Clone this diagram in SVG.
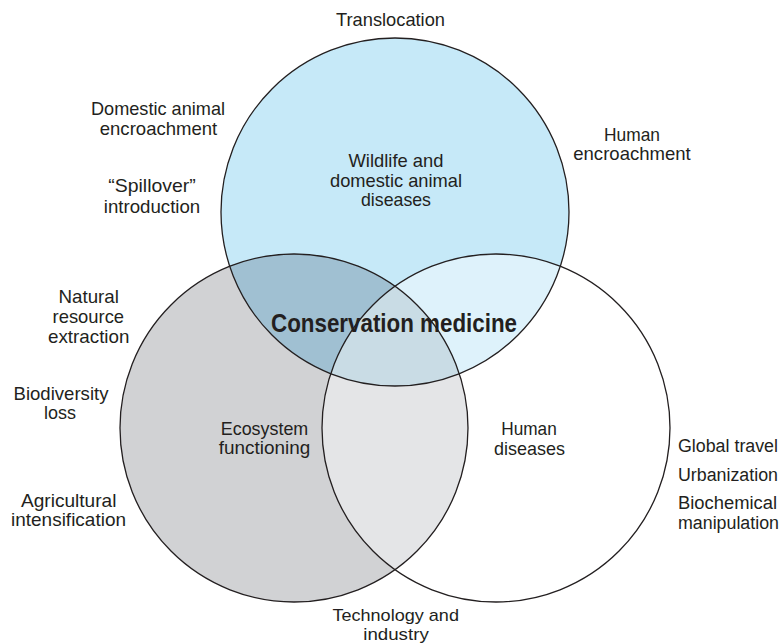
<svg xmlns="http://www.w3.org/2000/svg" width="782" height="644" viewBox="0 0 782 644">
<style>
  text { font-family: "Liberation Sans", Arial, sans-serif; font-size: 19px; fill: #231F20; }
  .c { text-anchor: middle; }
  .sm { font-size: 18px; }
  .xs { font-size: 17px; }
  .title { font-weight: bold; font-size: 25px; }
  .ring { fill: none; stroke: #231F20; stroke-width: 1.3; }
</style>
<defs>
  <circle id="cTop" cx="395" cy="212" r="174"/>
  <circle id="cLeft" cx="294" cy="428" r="174"/>
  <circle id="cRight" cx="496" cy="428" r="174"/>
  <clipPath id="clipTop"><use href="#cTop"/></clipPath>
  <clipPath id="clipLeft"><use href="#cLeft"/></clipPath>
</defs>
<rect width="782" height="644" fill="#ffffff"/>
<g id="fills">
  <use href="#cTop" fill="#C6E9F8"/>
  <use href="#cLeft" fill="#D1D2D4"/>
  <use href="#cRight" fill="#DEF2FB" clip-path="url(#clipTop)"/>
  <use href="#cRight" fill="#E4E5E7" clip-path="url(#clipLeft)"/>
  <use href="#cLeft" fill="#A0C0D2" clip-path="url(#clipTop)"/>
  <g clip-path="url(#clipTop)"><use href="#cRight" fill="#C9DCE5" clip-path="url(#clipLeft)"/></g>
</g>
<g id="node-wildlife">
  <use href="#cTop" class="ring"/>
  <text class="c" x="396" y="166.5" textLength="95" lengthAdjust="spacingAndGlyphs">Wildlife and</text>
  <text class="c" x="396" y="186.5" textLength="132" lengthAdjust="spacingAndGlyphs">domestic animal</text>
  <text class="c" x="396" y="206" textLength="70" lengthAdjust="spacingAndGlyphs">diseases</text>
</g>
<g id="node-ecosystem">
  <use href="#cLeft" class="ring"/>
  <text class="c" x="264.5" y="434.5" textLength="87.5" lengthAdjust="spacingAndGlyphs">Ecosystem</text>
  <text class="c" x="264.5" y="454" textLength="91.5" lengthAdjust="spacingAndGlyphs">functioning</text>
</g>
<g id="node-human">
  <use href="#cRight" class="ring"/>
  <text class="c" x="529" y="435" textLength="55.5" lengthAdjust="spacingAndGlyphs">Human</text>
  <text class="c" x="529.5" y="454.5" textLength="71" lengthAdjust="spacingAndGlyphs">diseases</text>
</g>
<g id="node-conservation">
  <text class="c title" x="394" y="332" textLength="246" lengthAdjust="spacingAndGlyphs">Conservation medicine</text>
</g>
<g id="labels">
  <text class="c" x="390.5" y="26" textLength="109" lengthAdjust="spacingAndGlyphs">Translocation</text>
  <text class="c" x="158" y="115" textLength="134" lengthAdjust="spacingAndGlyphs">Domestic animal</text>
  <text class="c" x="158.5" y="135" textLength="117.5" lengthAdjust="spacingAndGlyphs">encroachment</text>
  <text class="c" x="152" y="192" textLength="87.5" lengthAdjust="spacingAndGlyphs">“Spillover”</text>
  <text class="c" x="152" y="212.5" textLength="96.5" lengthAdjust="spacingAndGlyphs">introduction</text>
  <text class="c" x="632" y="140.5" textLength="56" lengthAdjust="spacingAndGlyphs">Human</text>
  <text class="c" x="632" y="160" textLength="117.5" lengthAdjust="spacingAndGlyphs">encroachment</text>
  <text class="c" x="88.7" y="303" textLength="60.5" lengthAdjust="spacingAndGlyphs">Natural</text>
  <text class="c" x="88.3" y="323" textLength="71.5" lengthAdjust="spacingAndGlyphs">resource</text>
  <text class="c" x="88.7" y="343" textLength="81.5" lengthAdjust="spacingAndGlyphs">extraction</text>
  <text class="c" x="61" y="399.5" textLength="95" lengthAdjust="spacingAndGlyphs">Biodiversity</text>
  <text class="c" x="60" y="419" textLength="32" lengthAdjust="spacingAndGlyphs">loss</text>
  <text class="c" x="68.7" y="506.5" textLength="95.5" lengthAdjust="spacingAndGlyphs">Agricultural</text>
  <text class="c" x="68.5" y="526" textLength="115" lengthAdjust="spacingAndGlyphs">intensification</text>
  <text class="c xs" x="395.7" y="620.5" textLength="126.5" lengthAdjust="spacingAndGlyphs">Technology and</text>
  <text class="c xs" x="396" y="640" textLength="65.5" lengthAdjust="spacingAndGlyphs">industry</text>
  <text class="sm" x="678" y="451.5" textLength="100" lengthAdjust="spacingAndGlyphs">Global travel</text>
  <text class="sm" x="678" y="481" textLength="100" lengthAdjust="spacingAndGlyphs">Urbanization</text>
  <text class="sm" x="678" y="509" textLength="99" lengthAdjust="spacingAndGlyphs">Biochemical</text>
  <text class="sm" x="678" y="528.5" textLength="101" lengthAdjust="spacingAndGlyphs">manipulation</text>
</g>
</svg>
